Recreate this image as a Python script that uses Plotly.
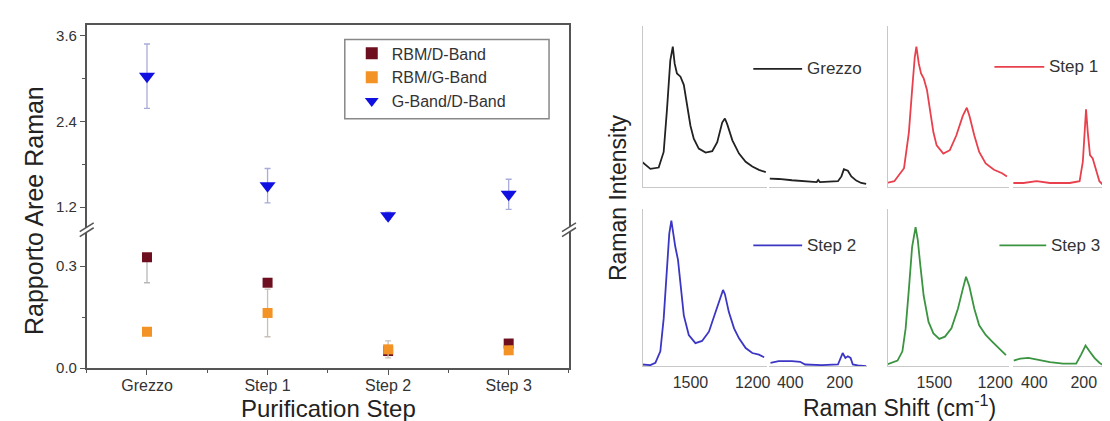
import plotly.graph_objects as go

W, H = 1110, 421
def X(px): return px / W
def Y(py): return 1 - py / H

# ---------------- left chart data ----------------
categories = ["Grezzo", "Step 1", "Step 2", "Step 3"]
rbm_d = [0.326, 0.251, 0.050, 0.072]
rbm_d_err_plus = [0.0, 0.0, 0.0, 0.0]
rbm_d_err_minus = [0.075, 0.0, 0.0, 0.0]
rbm_g = [0.107, 0.162, 0.055, 0.052]
rbm_g_err = [0.010, 0.070, 0.025, 0.010]
g_d = [3.03, 1.50, 1.08, 1.38]
g_d_err = [0.45, 0.24, 0.05, 0.21]

# ---------------- spectra data ----------------
grezzo_s1_x = [1734, 1693, 1653, 1629, 1613, 1597, 1585, 1576, 1565, 1548, 1532, 1516, 1500, 1484,
               1460, 1427, 1395, 1371, 1347, 1334, 1323, 1298, 1266, 1234, 1202, 1170, 1137]
grezzo_s1_y = [0.154, 0.110, 0.118, 0.215, 0.480, 0.785, 0.870, 0.764, 0.703, 0.683, 0.632, 0.500,
               0.378, 0.297, 0.236, 0.211, 0.220, 0.276, 0.398, 0.423, 0.388, 0.287, 0.205, 0.154,
               0.124, 0.104, 0.089]
grezzo_s2_x = [483, 447, 393, 340, 293, 287, 280, 207, 193, 183, 167, 153, 133, 113, 93]
grezzo_s2_y = [0.049, 0.047, 0.039, 0.033, 0.028, 0.041, 0.028, 0.033, 0.063, 0.108, 0.098, 0.063,
               0.037, 0.022, 0.016]

step1_s1_x = [1738, 1698, 1650, 1626, 1610, 1597, 1589, 1577, 1566, 1553, 1537, 1521, 1505, 1489,
              1456, 1424, 1392, 1360, 1340, 1327, 1303, 1279, 1247, 1206, 1166, 1142]
step1_s1_y = [0.022, 0.033, 0.114, 0.337, 0.602, 0.805, 0.870, 0.764, 0.703, 0.673, 0.602, 0.459,
              0.337, 0.256, 0.205, 0.226, 0.317, 0.439, 0.490, 0.439, 0.317, 0.215, 0.144, 0.104,
              0.083, 0.063]
step1_s2_x = [487, 444, 391, 337, 257, 217, 204, 196, 191, 184, 175, 164, 153, 137, 117, 97]
step1_s2_y = [0.022, 0.022, 0.033, 0.022, 0.022, 0.033, 0.154, 0.337, 0.480, 0.337, 0.195, 0.175,
              0.114, 0.033, 0.002, 0.002]

step2_s1_x = [1734, 1693, 1669, 1645, 1629, 1613, 1602, 1592, 1584, 1573, 1560, 1548, 1532, 1508,
              1476, 1444, 1411, 1379, 1355, 1343, 1334, 1315, 1290, 1266, 1234, 1202, 1170, 1145]
step2_s1_y = [0.010, 0.006, 0.021, 0.094, 0.302, 0.615, 0.844, 0.927, 0.844, 0.760, 0.677, 0.510,
              0.323, 0.198, 0.146, 0.160, 0.219, 0.344, 0.448, 0.485, 0.458, 0.344, 0.240, 0.177,
              0.115, 0.083, 0.073, 0.056]
step2_s2_x = [480, 447, 393, 360, 340, 273, 207, 196, 188, 177, 167, 156, 147, 127, 93]
step2_s2_y = [0.021, 0.031, 0.031, 0.027, 0.010, 0.006, 0.010, 0.052, 0.083, 0.052, 0.0625, 0.052,
              0.010, 0.004, 0.000]

step3_s1_x = [1734, 1706, 1682, 1658, 1642, 1626, 1610, 1593, 1582, 1569, 1553, 1529, 1505, 1476,
              1448, 1416, 1384, 1360, 1344, 1328, 1303, 1279, 1247, 1215, 1182, 1147]
step3_s1_y = [0.010, 0.021, 0.035, 0.094, 0.240, 0.490, 0.760, 0.885, 0.802, 0.635, 0.448, 0.281,
              0.208, 0.173, 0.1875, 0.240, 0.365, 0.490, 0.569, 0.510, 0.365, 0.260, 0.198, 0.156,
              0.115, 0.069]
step3_s2_x = [484, 457, 424, 391, 337, 284, 231, 211, 193, 177, 157, 137, 117]
step3_s2_y = [0.035, 0.048, 0.052, 0.040, 0.025, 0.015, 0.015, 0.073, 0.131, 0.094, 0.052, 0.021,
              0.000]

seg1_ticks = [1500, 1200]
seg2_ticks = [400, 200]

FONT = "Liberation Sans, Arial, sans-serif"
xs = list(range(len(categories)))

fig = go.Figure()

# ---------------- left chart traces ----------------
fig.add_trace(go.Scatter(
    x=xs, y=rbm_d, mode="markers", name="RBM/D-Band", xaxis="x", yaxis="y",
    marker=dict(symbol="square", size=10, color="#6e0f1f"),
    error_y=dict(type="data", symmetric=False, array=rbm_d_err_plus, arrayminus=rbm_d_err_minus,
                 color="#b8b8b8", thickness=1.3, width=3)))
fig.add_trace(go.Scatter(
    x=xs, y=rbm_g, mode="markers", name="RBM/G-Band", xaxis="x", yaxis="y",
    marker=dict(symbol="square", size=10, color="#f39325"),
    error_y=dict(type="data", array=rbm_g_err, color="#c8c0b8", thickness=1.3, width=3)))
fig.add_trace(go.Scatter(
    x=xs, y=g_d, mode="markers", name="G-Band/D-Band", xaxis="x2", yaxis="y2",
    marker=dict(symbol="triangle-down", size=14, color="#1010e0"),
    error_y=dict(type="data", array=g_d_err, color="#a8acd8", thickness=1.3, width=3)))

# ---------------- spectra traces ----------------
spectra = [
    ("Grezzo", "#222222", grezzo_s1_x, grezzo_s1_y, grezzo_s2_x, grezzo_s2_y, "x3", "x4", "y3"),
    ("Step 1", "#e8404c", step1_s1_x, step1_s1_y, step1_s2_x, step1_s2_y, "x5", "x6", "y4"),
    ("Step 2", "#3b36c4", step2_s1_x, step2_s1_y, step2_s2_x, step2_s2_y, "x7", "x8", "y5"),
    ("Step 3", "#3a9440", step3_s1_x, step3_s1_y, step3_s2_x, step3_s2_y, "x9", "x10", "y6"),
]
for name, col, a_x, a_y, b_x, b_y, xa, xb, ya in spectra:
    fig.add_trace(go.Scatter(x=a_x, y=a_y, mode="lines", line=dict(color=col, width=1.8),
                             xaxis=xa, yaxis=ya, showlegend=False, name=name))
    fig.add_trace(go.Scatter(x=b_x, y=b_y, mode="lines", line=dict(color=col, width=1.8),
                             xaxis=xb, yaxis=ya, showlegend=False, name=name))

AX = "#555555"
tickfont = dict(family=FONT, size=15, color="#333")

layout = dict(
    width=W, height=H, margin=dict(l=0, r=0, t=0, b=0),
    paper_bgcolor="white", plot_bgcolor="white",
    font=dict(family=FONT, color="#222"),
    showlegend=True,
    legend=dict(x=X(345), y=Y(29), xanchor="left", yanchor="top", bgcolor="rgba(0,0,0,0)",
                font=dict(family=FONT, size=16, color="#333"), tracegroupgap=0,
                itemsizing="constant"),
    xaxis=dict(domain=[X(79), X(563)], anchor="y", range=[-0.5, 3.5], tickmode="array",
               tickvals=xs, ticktext=categories, showline=True, linecolor=AX, linewidth=1.5,
               ticks="outside", ticklen=5, tickcolor=AX, showgrid=False, zeroline=False,
               tickfont=dict(family=FONT, size=16, color="#333"), ticklabelstandoff=-3,
               minor=dict(tickmode="linear", tick0=0.5, dtick=1, ticks="outside", ticklen=3,
                          tickcolor=AX)),
    xaxis2=dict(domain=[X(79), X(563)], anchor="y2", range=[-0.5, 3.5], side="top",
                showline=True, linecolor=AX, linewidth=1.5, ticks="", showticklabels=False,
                showgrid=False, zeroline=False),
    yaxis=dict(domain=[Y(367), Y(226)], anchor="x", range=[0, 0.407], tick0=0, dtick=0.3,
               tickformat=".1f", showline=True, mirror=True, linecolor=AX, linewidth=1.5,
               ticks="outside", ticklen=5, tickcolor=AX, showgrid=False, zeroline=False,
               tickfont=tickfont,
               minor=dict(tick0=0, dtick=0.15, ticks="outside", ticklen=3, tickcolor=AX)),
    yaxis2=dict(domain=[Y(226), Y(17)], anchor="x2", range=[0.885, 3.75], tick0=0, dtick=1.2,
                tickformat=".1f", showline=True, mirror=True, linecolor=AX, linewidth=1.5,
                ticks="outside", ticklen=5, tickcolor=AX, showgrid=False, zeroline=False,
                tickfont=tickfont,
                minor=dict(tick0=0, dtick=0.6, ticks="outside", ticklen=3, tickcolor=AX)),
)

# spectra axes geometry (pixels)
panels = {
    "TL": dict(s1=(637, 762), s2=(764, 862), y=(182, 18), xa="xaxis3", xb="xaxis4", ya="yaxis3",
               xan="x3", yan="y3", labels=False),
    "TR": dict(s1=(883, 1005), s2=(1009, 1107), y=(182, 18), xa="xaxis5", xb="xaxis6", ya="yaxis4",
               xan="x5", yan="y4", labels=False),
    "BL": dict(s1=(637, 762), s2=(764, 862), y=(365, 205), xa="xaxis7", xb="xaxis8", ya="yaxis5",
               xan="x7", yan="y5", labels=True),
    "BR": dict(s1=(883, 1005), s2=(1009, 1107), y=(365, 205), xa="xaxis9", xb="xaxis10", ya="yaxis6",
               xan="x9", yan="y6", labels=True),
}
LC = "#c8c8c8"
sfont = dict(family=FONT, size=16, color="#333")
for p in panels.values():
    layout[p["xa"]] = dict(domain=[X(p["s1"][0]), X(p["s1"][1])], anchor=p["yan"],
                           range=[1730, 1130], showline=True, linecolor=LC, linewidth=1.2,
                           ticks="", showgrid=False, zeroline=False, tickmode="array",
                           tickvals=seg1_ticks, showticklabels=p["labels"], tickfont=sfont,
                           ticklabelstandoff=2)
    layout[p["xb"]] = dict(domain=[X(p["s2"][0]), X(p["s2"][1])], anchor=p["yan"],
                           range=[485, 90], showline=True, linecolor=LC, linewidth=1.2,
                           ticks="", showgrid=False, zeroline=False, tickmode="array",
                           tickvals=seg2_ticks, showticklabels=p["labels"], tickfont=sfont,
                           ticklabelstandoff=2)
    layout[p["ya"]] = dict(domain=[Y(p["y"][0]), Y(p["y"][1])], anchor=p["xan"], range=[0, 1],
                           showline=True, linecolor=LC, linewidth=1.2, ticks="",
                           showticklabels=False, showgrid=False, zeroline=False)

fig.update_layout(**layout)

# ---------------- decorations ----------------
shapes = []
# legend box
shapes.append(dict(type="rect", xref="paper", yref="paper", x0=X(338), x1=X(543), y0=Y(113),
                   y1=Y(32), line=dict(color="#888", width=1.5)))
# axis break marks
for bx in (79, 563):
    by = 226
    path = (f"M{X(bx-7)},{Y(by+2)} L{X(bx+7)},{Y(by-7)} L{X(bx+7)},{Y(by-2)} "
            f"L{X(bx-7)},{Y(by+7)} Z")
    shapes.append(dict(type="path", xref="paper", yref="paper", path=path, fillcolor="white",
                       line=dict(width=0)))
    for off in (0, 5):
        shapes.append(dict(type="line", xref="paper", yref="paper", x0=X(bx-7), y0=Y(by+2+off),
                           x1=X(bx+7), y1=Y(by-7+off), line=dict(color=AX, width=1.5)))

annotations = [
    dict(text="Rapporto Aree Raman", x=X(26), y=Y(206), textangle=-90,
         font=dict(family=FONT, size=25, color="#222")),
    dict(text="Purification Step", x=X(322), y=Y(408), font=dict(family=FONT, size=24, color="#222")),
    dict(text="Raman Intensity", x=X(613), y=Y(193), textangle=-90,
         font=dict(family=FONT, size=23, color="#222")),
    dict(text="Raman Shift (cm<sup>-1</sup>)", x=X(895), y=Y(406),
         font=dict(family=FONT, size=23, color="#222")),
]
# spectra legends
spec_leg = [("Grezzo", "#222222", 748, 797, 62), ("Step 1", "#e8404c", 990, 1040, 60),
            ("Step 2", "#3b36c4", 748, 797, 242), ("Step 3", "#3a9440", 995, 1042, 242)]
for txt, col, lx0, lx1, ly in spec_leg:
    shapes.append(dict(type="line", xref="paper", yref="paper", x0=X(lx0), x1=X(lx1), y0=Y(ly),
                       y1=Y(ly), line=dict(color=col, width=1.7)))
    annotations.append(dict(text=txt, x=X(lx1 + 3), y=Y(ly), xanchor="left", yanchor="middle",
                            font=dict(family=FONT, size=17, color="#333")))

for a in annotations:
    a.setdefault("xref", "paper")
    a.setdefault("yref", "paper")
    a.setdefault("showarrow", False)
    a.setdefault("xanchor", "center")
    a.setdefault("yanchor", "middle")

fig.update_layout(shapes=shapes, annotations=annotations)
fig.write_html("out.html")
